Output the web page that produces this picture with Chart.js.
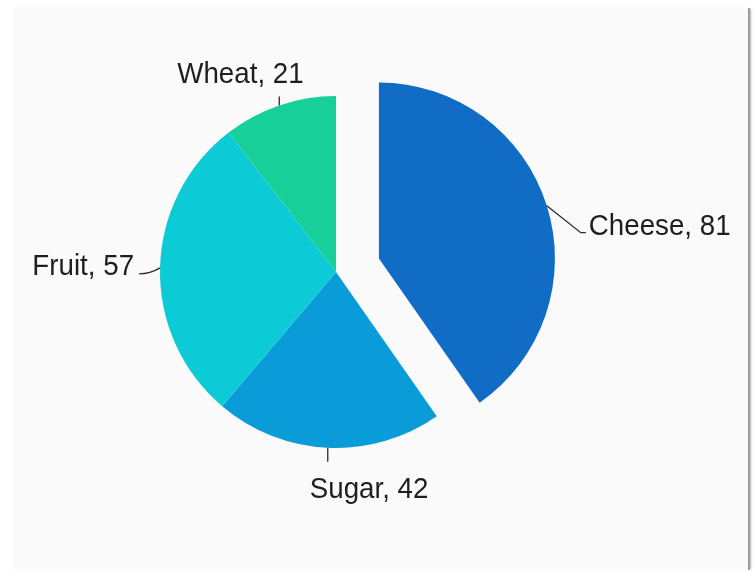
<!DOCTYPE html>
<html>
<head>
<meta charset="utf-8">
<title>Pie</title>
<script src="https://cdn.jsdelivr.net/npm/chart.js@4/dist/chart.umd.min.js"></script>
<style>
  html, body { margin: 0; padding: 0; background: #ffffff; }
  body { width: 753px; height: 572px; position: relative; overflow: hidden; }
  .panel {
    position: absolute; left: 13px; top: 8px; width: 735px; height: 562px;
    background: #fafafa;
    border-right: 2px solid #9b9b9b;
    box-shadow: 2px 0 2px -1px rgba(0, 0, 0, 0.3);
  }
  #chart { position: absolute; left: 0; top: 0; }
</style>
</head>
<body>
<div class="panel"></div>
<canvas id="chart" width="753" height="572"></canvas>
<script>
const categories = ["Cheese", "Sugar", "Fruit", "Wheat"];
const values = [81, 42, 57, 21];
const colors = ["#106cc4", "#0a9bd9", "#0dcbd6", "#17cf98"];
const exploded = [45, 0, 0, 0];

// leader line points and text anchor for each label, relative to the slice edge
const labelLayout = [
  { line: [[34, 27], [39, 27]], text: [42, 29], align: "left" },
  { line: [[0, 14]], text: [-18, 50], align: "left" },
  { curve: [[-10, 6], [-21, 6]], text: [-26, 7], align: "right" },
  { line: [[0, -9]], text: [-102, -22], align: "left" },
];

// pull slices outward along their middle angle
const explodePlugin = {
  id: "explode",
  afterDatasetUpdate(chart, args) {
    args.meta.data.forEach((arc, i) => {
      const d = exploded[i];
      if (!d) return;
      const mid = (arc.startAngle + arc.endAngle) / 2;
      arc.x += Math.cos(mid) * d;
      arc.y += Math.sin(mid) * d;
    });
  },
};

const labelPlugin = {
  id: "sliceLabels",
  afterDatasetsDraw(chart) {
    const ctx = chart.ctx;
    const meta = chart.getDatasetMeta(0);
    ctx.save();
    ctx.strokeStyle = "#2b2b2b";
    ctx.lineWidth = 1.3;
    ctx.fillStyle = "#1e1e1e";
    ctx.font = "28px 'Liberation Sans', Arial, sans-serif";
    ctx.textBaseline = "alphabetic";
    meta.data.forEach((arc, i) => {
      const mid = (arc.startAngle + arc.endAngle) / 2;
      const ax = arc.x + Math.cos(mid) * arc.outerRadius;
      const ay = arc.y + Math.sin(mid) * arc.outerRadius;
      const lay = labelLayout[i];
      ctx.beginPath();
      ctx.moveTo(ax, ay);
      if (lay.line) {
        lay.line.forEach((p) => ctx.lineTo(ax + p[0], ay + p[1]));
      } else {
        const [c, e] = lay.curve;
        ctx.quadraticCurveTo(ax + c[0], ay + c[1], ax + e[0], ay + e[1]);
      }
      ctx.stroke();
      // text is a little taller than the plain font
      ctx.save();
      ctx.translate(ax + lay.text[0], ay + lay.text[1]);
      ctx.scale(0.99, 1.08);
      ctx.textAlign = lay.align;
      ctx.fillText(categories[i] + ", " + values[i], 0, 0);
      ctx.restore();
    });
    ctx.restore();
  },
};

new Chart(document.getElementById("chart"), {
  type: "pie",
  data: {
    labels: categories,
    datasets: [
      {
        data: values,
        backgroundColor: colors,
        borderWidth: 0,
      },
    ],
  },
  options: {
    responsive: false,
    animation: false,
    events: [],
    radius: 176,
    layout: { padding: { left: 101, right: 182, top: 72, bottom: 100 } },
    plugins: {
      legend: { display: false },
      tooltip: { enabled: false },
    },
  },
  plugins: [explodePlugin, labelPlugin],
});
</script>
</body>
</html>
